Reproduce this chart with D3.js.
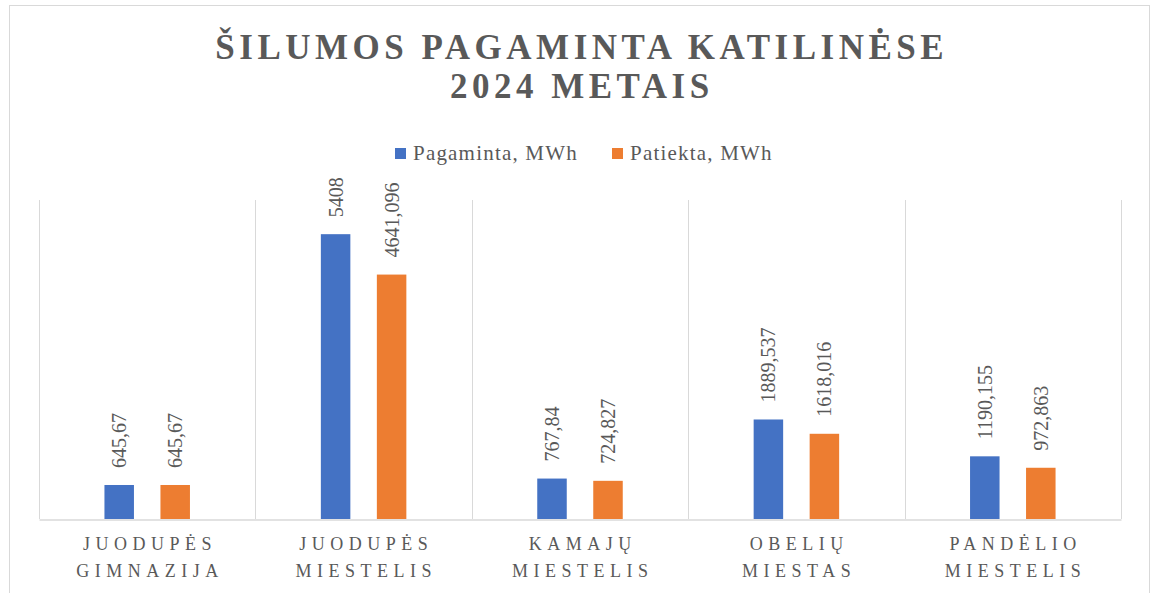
<!DOCTYPE html>
<html>
<head>
<meta charset="utf-8">
<script src="https://cdn.jsdelivr.net/npm/d3@7/dist/d3.min.js"></script>
<style>
  html, body { margin: 0; padding: 0; background: #fff; }
  svg { display: block; }
</style>
</head>
<body>
<svg id="chart" width="1155" height="593"></svg>
<script>
const titleLines = ["ŠILUMOS PAGAMINTA KATILINĖSE", "2024 METAIS"];
const categories = [
  ["JUODUPĖS", "GIMNAZIJA"],
  ["JUODUPĖS", "MIESTELIS"],
  ["KAMAJŲ", "MIESTELIS"],
  ["OBELIŲ", "MIESTAS"],
  ["PANDĖLIO", "MIESTELIS"]
];
const seriesNames = ["Pagaminta, MWh", "Patiekta, MWh"];
const pagaminta = [645.67, 5408, 767.84, 1889.537, 1190.155];
const patiekta = [645.67, 4641.096, 724.827, 1618.016, 972.863];
const pagamintaLabels = ["645,67", "5408", "767,84", "1889,537", "1190,155"];
const patiektaLabels = ["645,67", "4641,096", "724,827", "1618,016", "972,863"];
const yMax = 6000;

const colors = ["#4472C4", "#ED7D31"];
const textColor = "#595959";
const gridColor = "#d9d9d9";
const fam = "Liberation Serif";

const svg = d3.select("#chart");

svg.append("rect")
  .attr("x", 9.5).attr("y", 5.5).attr("width", 1140).attr("height", 600)
  .attr("fill", "#fff").attr("stroke", gridColor).attr("stroke-width", 1);

const plot = { left: 39, right: 1121, top: 200, bottom: 519 };
const keys = categories.map((c, i) => i);

const x0 = d3.scaleBand().domain(keys).range([plot.left, plot.right]);
const y = d3.scaleLinear().domain([0, yMax]).range([plot.bottom, 203]);

const barW = 29.5, barGap = 26.5;
const x1 = d3.scaleOrdinal().domain([0, 1]).range([
  x0.bandwidth() / 2 - barGap / 2 - barW,
  x0.bandwidth() / 2 + barGap / 2
]);

const bounds = keys.map(k => x0(k)).concat([plot.right]);
svg.append("g").selectAll("line").data(bounds).join("line")
  .attr("x1", d => Math.round(d) + 0.5).attr("x2", d => Math.round(d) + 0.5)
  .attr("y1", plot.top).attr("y2", plot.bottom)
  .attr("stroke", gridColor).attr("stroke-width", 1);

const axG = svg.append("g").attr("transform", `translate(0,${plot.bottom + 0.5})`)
  .call(d3.axisBottom(x0).tickSize(0).tickFormat(""));
axG.selectAll("text").remove();
axG.select(".domain").attr("stroke", gridColor).attr("stroke-width", 1.5);

const series = [pagaminta, patiekta];
const seriesLabels = [pagamintaLabels, patiektaLabels];
series.forEach((vals, s) => {
  const g = svg.append("g");
  g.selectAll("rect").data(vals).join("rect")
    .attr("x", (d, i) => x0(i) + x1(s))
    .attr("y", d => y(d))
    .attr("width", barW)
    .attr("height", d => plot.bottom - y(d))
    .attr("fill", colors[s]);
  vals.forEach((d, i) => {
    svg.append("text")
      .attr("transform", `translate(${x0(i) + x1(s) + barW / 2 + 7},${y(d) - 17}) rotate(-90)`)
      .attr("font-size", 20)
      .style("font-family", fam)
      .attr("fill", textColor)
      .text(seriesLabels[s][i]);
  });
});

categories.forEach((lines, i) => {
  const cx = x0(i) + x0.bandwidth() / 2 + 2.75;
  lines.forEach((ln, j) => {
    svg.append("text")
      .attr("x", cx).attr("y", 550 + j * 27)
      .attr("text-anchor", "middle")
      .attr("font-size", 18)
      .style("font-family", fam)
      .style("letter-spacing", "5.5px")
      .attr("fill", textColor)
      .text(ln);
  });
});

titleLines.forEach((ln, j) => {
  svg.append("text")
    .attr("x", 579.5 + 2.25)
    .attr("y", 59 + j * 39)
    .attr("text-anchor", "middle")
    .attr("font-size", 35)
    .attr("font-weight", "bold")
    .style("font-family", fam)
    .style("letter-spacing", "4.5px")
    .attr("fill", textColor)
    .text(ln);
});

const legendX = [395, 612];
seriesNames.forEach((name, s) => {
  svg.append("rect")
    .attr("x", legendX[s]).attr("y", 148).attr("width", 11).attr("height", 11)
    .attr("fill", colors[s]);
  svg.append("text")
    .attr("x", legendX[s] + 18).attr("y", 160)
    .attr("font-size", 21)
    .style("font-family", fam)
    .style("letter-spacing", "1.2px")
    .attr("fill", textColor)
    .text(name);
});
</script>
</body>
</html>
